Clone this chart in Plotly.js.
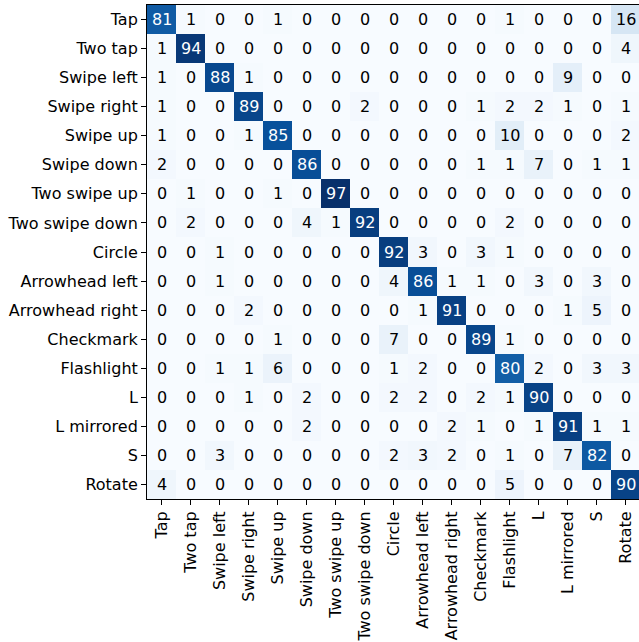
<!DOCTYPE html>
<html>
<head>
<meta charset="utf-8">
<script src="https://cdn.plot.ly/plotly-3.0.1.min.js"></script>
<style>html,body{margin:0;padding:0;background:#fff;overflow:hidden;}#chart{width:639px;height:642px;overflow:hidden;}</style>
</head>
<body>
<div id="chart"></div>
<script>
const labels = ["Tap","Two tap","Swipe left","Swipe right","Swipe up","Swipe down","Two swipe up","Two swipe down","Circle","Arrowhead left","Arrowhead right","Checkmark","Flashlight","L","L mirrored","S","Rotate"];

const rowTap          = [81,1,0,0,1,0,0,0,0,0,0,0,1,0,0,0,16];
const rowTwoTap       = [1,94,0,0,0,0,0,0,0,0,0,0,0,0,0,0,4];
const rowSwipeLeft    = [1,0,88,1,0,0,0,0,0,0,0,0,0,0,9,0,0];
const rowSwipeRight   = [1,0,0,89,0,0,0,2,0,0,0,1,2,2,1,0,1];
const rowSwipeUp      = [1,0,0,1,85,0,0,0,0,0,0,0,10,0,0,0,2];
const rowSwipeDown    = [2,0,0,0,0,86,0,0,0,0,0,1,1,7,0,1,1];
const rowTwoSwipeUp   = [0,1,0,0,1,0,97,0,0,0,0,0,0,0,0,0,0];
const rowTwoSwipeDown = [0,2,0,0,0,4,1,92,0,0,0,0,2,0,0,0,0];
const rowCircle       = [0,0,1,0,0,0,0,0,92,3,0,3,1,0,0,0,0];
const rowArrowLeft    = [0,0,1,0,0,0,0,0,4,86,1,1,0,3,0,3,0];
const rowArrowRight   = [0,0,0,2,0,0,0,0,0,1,91,0,0,0,1,5,0];
const rowCheckmark    = [0,0,0,0,1,0,0,0,7,0,0,89,1,0,0,0,0];
const rowFlashlight   = [0,0,1,1,6,0,0,0,1,2,0,0,80,2,0,3,3];
const rowL            = [0,0,0,1,0,2,0,0,2,2,0,2,1,90,0,0,0];
const rowLMirrored    = [0,0,0,0,0,2,0,0,0,0,2,1,0,1,91,1,1];
const rowS            = [0,0,3,0,0,0,0,0,2,3,2,0,1,0,7,82,0];
const rowRotate       = [4,0,0,0,0,0,0,0,0,0,0,0,5,0,0,0,90];

const z = [rowTap,rowTwoTap,rowSwipeLeft,rowSwipeRight,rowSwipeUp,rowSwipeDown,rowTwoSwipeUp,rowTwoSwipeDown,rowCircle,rowArrowLeft,rowArrowRight,rowCheckmark,rowFlashlight,rowL,rowLMirrored,rowS,rowRotate];

let zmax = 0;
z.forEach(r => r.forEach(v => { if (v > zmax) zmax = v; }));
const thresh = zmax / 2;

const blues = [
  [0.0,'#f7fbff'],[0.125,'#deebf7'],[0.25,'#c6dbef'],[0.375,'#9ecae1'],
  [0.5,'#6baed6'],[0.625,'#4292c6'],[0.75,'#2171b5'],[0.875,'#08519c'],[1.0,'#08306b']
];

const annotations = [];
z.forEach((row, i) => row.forEach((v, j) => {
  annotations.push({
    x: labels[j], y: labels[i], text: String(v), showarrow: false,
    xref: 'x', yref: 'y',
    font: {family: 'DejaVu Sans', size: 16, color: v > thresh ? '#ffffff' : '#000000'}
  });
}));

const font = {family: 'DejaVu Sans', size: 16, color: '#000'};

Plotly.newPlot('chart', [{
  type: 'heatmap', x: labels, y: labels, z: z,
  colorscale: blues, zmin: 0, zmax: zmax, showscale: false, hoverinfo: 'none'
}], {
  width: 640, height: 642,
  margin: {l: 147, r: 0, t: 5, b: 143, pad: 0},
  paper_bgcolor: '#fff', plot_bgcolor: '#fff',
  font: font,
  xaxis: {type: 'category', tickangle: -90, ticks: 'outside', ticklen: 5, tickwidth: 1, tickcolor: '#000',
          showline: true, linecolor: '#000', linewidth: 1, mirror: true, showgrid: false, zeroline: false,
          tickfont: font, automargin: false},
  yaxis: {type: 'category', autorange: 'reversed', ticks: 'outside', ticklen: 5, tickwidth: 1, tickcolor: '#000',
          showline: true, linecolor: '#000', linewidth: 1, mirror: true, showgrid: false, zeroline: false,
          tickfont: font, automargin: false},
  annotations: annotations
}, {staticPlot: true});
</script>
</body>
</html>
